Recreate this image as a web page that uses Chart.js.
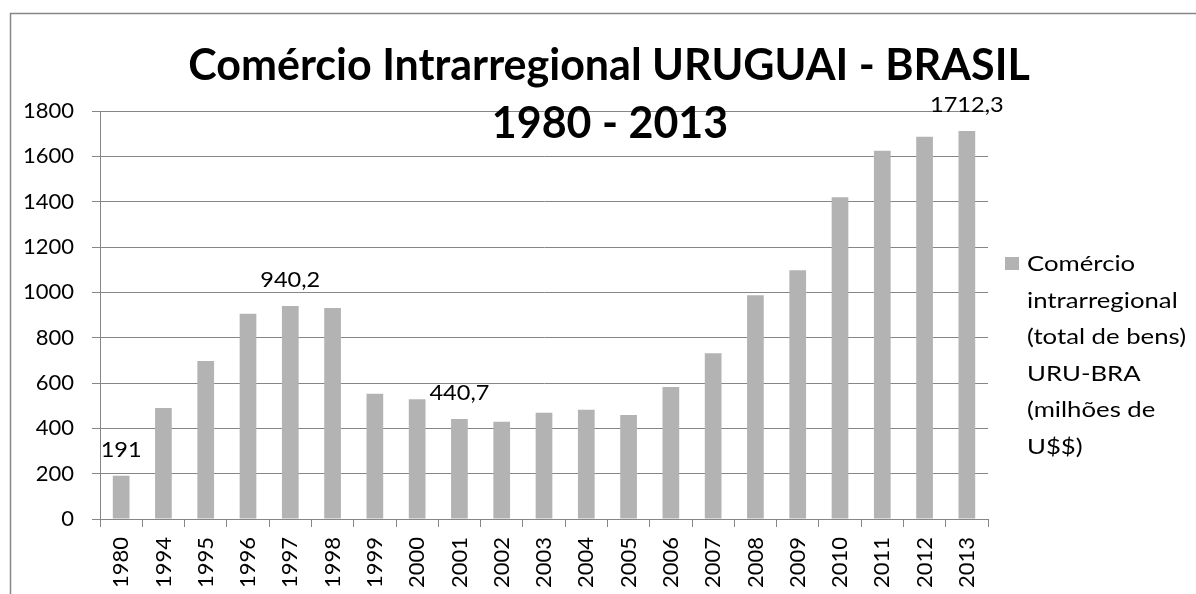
<!DOCTYPE html>
<html>
<head>
<meta charset="utf-8">
<script src="https://cdn.jsdelivr.net/npm/chart.js@4.4.0/dist/chart.umd.min.js"></script>
<style>
  html, body { margin: 0; padding: 0; background: #ffffff; overflow: hidden; }
  #wrap { position: relative; width: 1196px; height: 594px; }
</style>
</head>
<body>
<div id="wrap"><canvas id="chart"></canvas></div>
<script>
// ---- data ----
const categories = ['1980', '1994', '1995', '1996', '1997', '1998', '1999', '2000', '2001', '2002',
                    '2003', '2004', '2005', '2006', '2007', '2008', '2009', '2010', '2011', '2012', '2013'];
const tradeValues = [191, 490, 697, 906, 940.2, 931, 553, 528, 440.7, 429,
                     469, 482, 459, 582, 731, 987, 1097, 1419, 1625, 1686, 1712.3];
const labeledIndices = [0, 4, 8, 20];
const yMin = 0;
const yMax = 1800;
const yStep = 200;
const titleLines = ['Comércio Intrarregional URUGUAI - BRASIL', '1980 - 2013'];
const seriesLabel = 'Comércio intrarregional (total de bens) URU-BRA (milhões de U$$)';
const legendLines = ['Comércio', 'intrarregional', '(total de bens)', 'URU-BRA', '(milhões de', 'U$$)'];

// ---- style ----
const FONT = 'Lato, "Open Sans", sans-serif';
const BAR_COLOR = '#b3b3b3';
const GRID_COLOR = '#868686';
const TEXT_COLOR = '#000000';

function stretchedText(ctx, txt, x, y, sx) {
  ctx.save();
  ctx.translate(x, y);
  ctx.scale(sx, 1);
  ctx.fillText(txt, 0, 0);
  ctx.restore();
}

const frameAndTextPlugin = {
  id: 'frameAndText',
  beforeDraw(chart) {
    const ctx = chart.ctx;
    ctx.save();
    ctx.strokeStyle = '#878787';
    ctx.lineWidth = 1.5;
    ctx.beginPath();
    ctx.moveTo(10.5, 600);
    ctx.lineTo(10.5, 13.5);
    ctx.lineTo(1200, 13.5);
    ctx.stroke();
    ctx.restore();
  },
  afterDatasetsDraw(chart) {
    const ctx = chart.ctx;
    const meta = chart.getDatasetMeta(0);
    const vals = chart.data.datasets[0].data;
    ctx.save();
    ctx.font = '22px ' + FONT;
    ctx.fillStyle = TEXT_COLOR;
    ctx.textAlign = 'center';
    ctx.textBaseline = 'alphabetic';
    labeledIndices.forEach(i => {
      const bar = meta.data[i];
      const txt = String(vals[i]).replace('.', ',');
      stretchedText(ctx, txt, bar.x, bar.y - 19, 1.07);
    });
    ctx.restore();
  },
  afterDraw(chart) {
    const ctx = chart.ctx;
    ctx.save();
    // title
    ctx.font = 'bold 43px ' + FONT;
    ctx.fillStyle = TEXT_COLOR;
    ctx.textAlign = 'center';
    ctx.textBaseline = 'alphabetic';
    ctx.fillText(titleLines[0], 609, 80);
    ctx.fillText(titleLines[1], 610, 138);
    // legend
    ctx.fillStyle = BAR_COLOR;
    ctx.fillRect(1005, 257, 14, 13);
    ctx.font = '22px ' + FONT;
    ctx.fillStyle = TEXT_COLOR;
    ctx.textAlign = 'left';
    legendLines.forEach((line, k) => {
      stretchedText(ctx, line, 1027, 271 + k * 36.5, 1.17);
    });
    ctx.restore();
  }
};

new Chart(document.getElementById('chart'), {
  type: 'bar',
  data: {
    labels: categories,
    datasets: [{
      label: seriesLabel,
      data: tradeValues,
      backgroundColor: BAR_COLOR,
      borderWidth: 0,
      barPercentage: 0.395,
      categoryPercentage: 1.0
    }]
  },
  options: {
    responsive: true,
    maintainAspectRatio: false,
    animation: false,
    devicePixelRatio: 1,
    layout: { padding: { left: 0, right: 208, top: 111, bottom: 0 } },
    plugins: {
      legend: { display: false },
      title: { display: false },
      tooltip: { enabled: false }
    },
    scales: {
      x: {
        grid: { display: true, drawOnChartArea: false, drawTicks: true, tickLength: 8, color: GRID_COLOR, offset: true },
        border: { display: true, color: GRID_COLOR, width: 1 },
        ticks: { minRotation: 90, maxRotation: 90, autoSkip: false, padding: 10, color: TEXT_COLOR, font: { family: FONT, size: 22 } },
        afterFit(scale) { scale.height = 75; }
      },
      y: {
        min: yMin,
        max: yMax,
        grid: { display: true, drawTicks: true, tickLength: 8, color: GRID_COLOR, lineWidth: 1 },
        border: { display: true, color: GRID_COLOR, width: 1 },
        ticks: { stepSize: yStep, padding: 18, color: TEXT_COLOR, font: { family: FONT, size: 22 },
                 callback: (value) => String(value) },
        afterFit(scale) { scale.width = 100; }
      }
    }
  },
  plugins: [frameAndTextPlugin]
});
</script>
</body>
</html>
